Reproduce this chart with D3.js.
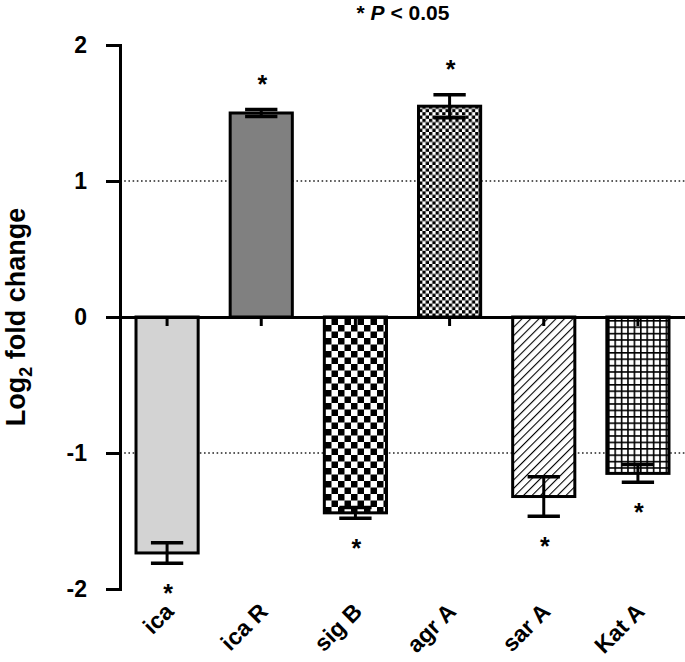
<!DOCTYPE html>
<html><head><meta charset="utf-8">
<script src="https://cdn.jsdelivr.net/npm/d3@7"></script>
<style>body{margin:0;background:#fff;} svg{display:block;font-family:"Liberation Sans",Arial,sans-serif;}</style>
</head><body>
<script>
const categories = ["ica", "ica R", "sig B", "agr A", "sar A", "Kat A"];
const values = [-1.735, 1.50, -1.44, 1.55, -1.32, -1.15];
const errors = [0.075, 0.025, 0.04, 0.085, 0.145, 0.065];
const significant = [true, true, true, true, true, true];
const yTicks = [-2, -1, 0, 1, 2];
const fills = ["#d3d3d3", "#808080", "url(#checkLarge)", "url(#checkSmall)", "url(#hatch)", "url(#grid)"];

const W = 685, H = 662;
const svg = d3.select("body").append("svg").attr("width", W).attr("height", H);
const defs = svg.append("defs");

// patterns
const pL = defs.append("pattern").attr("id","checkLarge").attr("patternUnits","userSpaceOnUse").attr("width",13).attr("height",13);
pL.append("rect").attr("width",13).attr("height",13).attr("fill","#fff");
pL.append("rect").attr("width",6.5).attr("height",6.5).attr("fill","#000");
pL.append("rect").attr("x",6.5).attr("y",6.5).attr("width",6.5).attr("height",6.5).attr("fill","#000");

const pS = defs.append("pattern").attr("id","checkSmall").attr("patternUnits","userSpaceOnUse").attr("width",6.6).attr("height",6.6);
pS.append("rect").attr("width",6.6).attr("height",6.6).attr("fill","#fff");
pS.append("rect").attr("width",3.3).attr("height",3.3).attr("fill","#000");
pS.append("rect").attr("x",3.3).attr("y",3.3).attr("width",3.3).attr("height",3.3).attr("fill","#000");

const pH = defs.append("pattern").attr("id","hatch").attr("patternUnits","userSpaceOnUse").attr("width",6).attr("height",6)
  .attr("patternTransform","rotate(45)");
pH.append("rect").attr("width",6).attr("height",6).attr("fill","#fff");
pH.append("line").attr("x1",0).attr("y1",0).attr("x2",0).attr("y2",6).attr("stroke","#000").attr("stroke-width",2.2);

const pG = defs.append("pattern").attr("id","grid").attr("patternUnits","userSpaceOnUse").attr("width",6.4).attr("height",6.4);
pG.append("rect").attr("width",6.4).attr("height",6.4).attr("fill","#fff");
pG.append("rect").attr("width",1.6).attr("height",6.4).attr("fill","#000");
pG.append("rect").attr("width",6.4).attr("height",1.6).attr("fill","#000");

const x0 = 120, x1 = 685;
const x = d3.scaleBand().domain(categories).range([x0, x1]).paddingInner(0.34).paddingOuter(0.17);
const y = d3.scaleLinear().domain([-2, 2]).range([589, 45]);

// dotted reference lines
svg.selectAll("line.ref").data([1, -1]).enter().append("line")
  .attr("x1", x0).attr("x2", x1).attr("y1", d => y(d)).attr("y2", d => y(d))
  .attr("stroke", "#222").attr("stroke-width", 1.6).attr("stroke-dasharray", "1.6,2.6");

// bars
svg.selectAll("rect.bar").data(values).enter().append("rect")
  .attr("x", (d,i) => x(categories[i]))
  .attr("width", x.bandwidth())
  .attr("y", d => y(Math.max(0, d)))
  .attr("height", d => Math.abs(y(d) - y(0)))
  .attr("fill", (d,i) => fills[i])
  .attr("stroke", "#000").attr("stroke-width", 3);

// error bars
const capW = x.bandwidth() * 0.52;
const eb = svg.selectAll("g.err").data(values).enter().append("g")
  .attr("transform", (d,i) => `translate(${x(categories[i]) + x.bandwidth()/2},0)`);
eb.append("line").attr("x1",0).attr("x2",0)
  .attr("y1",(d,i)=>y(d - errors[i])).attr("y2",(d,i)=>y(d + errors[i]))
  .attr("stroke","#000").attr("stroke-width",3);
eb.append("line").attr("x1",-capW/2).attr("x2",capW/2)
  .attr("y1",(d,i)=>y(d - errors[i])).attr("y2",(d,i)=>y(d - errors[i]))
  .attr("stroke","#000").attr("stroke-width",3.5);
eb.append("line").attr("x1",-capW/2).attr("x2",capW/2)
  .attr("y1",(d,i)=>y(d + errors[i])).attr("y2",(d,i)=>y(d + errors[i]))
  .attr("stroke","#000").attr("stroke-width",3.5);

// asterisks
svg.selectAll("text.star").data(values).enter().append("text")
  .filter((d,i)=>significant[i])
  .attr("x", (d,i) => x(categories[i]) + x.bandwidth()/2 + 1)
  .attr("y", (d,i) => d > 0 ? y(d + errors[i]) - 17 : y(d - errors[i]) + 39)
  .attr("text-anchor","middle").attr("font-size",25).attr("font-weight","bold").text("*");

// zero axis (x axis)
const xAxis = svg.append("g").attr("transform", `translate(0,${y(0)})`)
  .call(d3.axisBottom(x).tickSize(9).tickSizeOuter(0).tickFormat(""));
xAxis.select(".domain").attr("stroke-width",3).attr("d", `M${x0},0.5H${x1}`);
xAxis.selectAll(".tick line").attr("stroke-width",3);

// x labels
svg.selectAll("text.xl").data(categories).enter().append("text")
  .attr("transform", d => `translate(${x(d) + x.bandwidth()/2 + 8},${613}) rotate(-45)`)
  .attr("text-anchor","end").attr("font-size",23).attr("font-weight","bold").text(d => d);

// y axis
const yAxis = svg.append("g").attr("transform", `translate(${x0},0)`)
  .call(d3.axisLeft(y).tickValues(yTicks).tickSize(14).tickSizeOuter(14).tickPadding(19).tickFormat(d3.format("d")));
yAxis.select(".domain").attr("stroke-width",3);
yAxis.selectAll(".tick line").attr("stroke-width",3);
yAxis.selectAll(".tick text").attr("font-size",23).attr("font-weight","bold").attr("fill","#000")
  .attr("font-family","Liberation Sans, Arial, sans-serif").text(d => d < 0 ? "-" + Math.abs(d) : d);

// y title
const yt = svg.append("text").attr("transform", `translate(25,${y(0)}) rotate(-90)`)
  .attr("text-anchor","middle").attr("font-size",27).attr("font-weight","bold");
yt.append("tspan").text("Log");
yt.append("tspan").attr("font-size",18).attr("dy",7).text("2");
yt.append("tspan").attr("dy",-7).text(" fold change");

// title
const tt = svg.append("text").attr("x", 403).attr("y", 20).attr("text-anchor","middle")
  .attr("font-size",21).attr("font-weight","bold");
tt.append("tspan").text("* ");
tt.append("tspan").attr("font-style","italic").text("P");
tt.append("tspan").text(" < 0.05");
</script>
</body></html>
